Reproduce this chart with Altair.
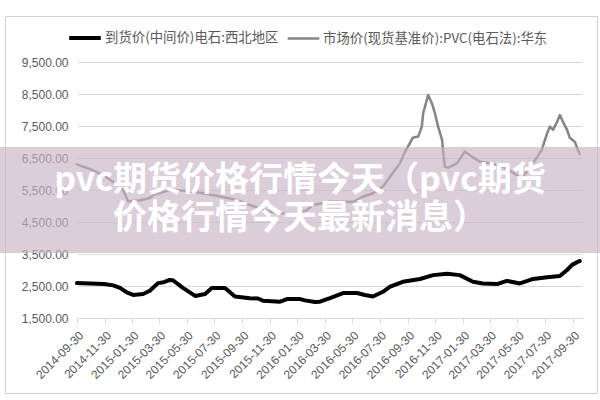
import altair as alt
import pandas as pd

series_names = ["到货价(中间价)电石:西北地区", "市场价(现货基准价):PVC(电石法):华东"]
series_colors = ["#000000", "#858585"]

carbide_dates = ["2014-09-30", "2014-10-29", "2014-11-29", "2014-12-19", "2015-01-03", "2015-01-18",
                 "2015-02-01", "2015-02-23", "2015-03-10", "2015-03-28", "2015-04-10", "2015-04-23",
                 "2015-04-30", "2015-05-22", "2015-06-02", "2015-06-18", "2015-07-10", "2015-07-25",
                 "2015-08-23", "2015-09-14", "2015-10-17", "2015-11-04", "2015-11-15", "2015-12-23",
                 "2016-01-07", "2016-02-05", "2016-02-16", "2016-03-09", "2016-03-20", "2016-04-11",
                 "2016-05-10", "2016-06-10", "2016-06-27", "2016-07-15", "2016-08-06", "2016-08-22",
                 "2016-09-19", "2016-10-27", "2016-11-25", "2016-12-26", "2017-01-23", "2017-02-21",
                 "2017-03-15", "2017-04-15", "2017-05-07", "2017-06-05", "2017-07-04", "2017-08-04",
                 "2017-09-01", "2017-09-17", "2017-09-28", "2017-10-11", "2017-10-15"]
carbide_values = [2590, 2580, 2560, 2520, 2440, 2300, 2220, 2250, 2350, 2590, 2620, 2690,
                  2680, 2440, 2340, 2190, 2250, 2440, 2440, 2170, 2120, 2110, 2040, 2010,
                  2090, 2090, 2050, 2000, 2010, 2120, 2280, 2280, 2220, 2170, 2320, 2480,
                  2630, 2720, 2840, 2880, 2840, 2630, 2580, 2560, 2660, 2580, 2720, 2770,
                  2810, 3000, 3160, 3260, 3280]

pvc_dates = ["2014-09-30", "2014-10-29", "2014-11-29", "2014-12-23", "2015-01-10", "2015-01-21",
             "2015-02-16", "2015-03-10", "2015-03-17", "2015-04-23", "2015-05-27", "2015-07-05",
             "2015-08-12", "2015-09-19", "2015-10-17", "2015-11-30", "2016-01-29", "2016-02-20",
             "2016-03-04", "2016-04-11", "2016-06-01", "2016-06-23", "2016-07-15", "2016-08-06",
             "2016-08-22", "2016-09-13", "2016-09-24", "2016-10-05", "2016-10-11", "2016-10-23",
             "2016-10-31", "2016-11-03", "2016-11-11", "2016-11-14", "2016-11-22", "2016-11-29",
             "2016-12-06", "2016-12-15", "2016-12-17", "2016-12-21", "2016-12-28", "2017-01-17",
             "2017-02-03", "2017-02-19", "2017-03-09", "2017-03-31", "2017-04-28", "2017-05-29",
             "2017-06-12", "2017-07-04", "2017-07-23", "2017-08-04", "2017-08-10", "2017-08-17",
             "2017-08-26", "2017-09-01", "2017-09-08", "2017-09-17", "2017-09-23", "2017-10-04",
             "2017-10-11", "2017-10-15"]
pvc_values = [6300, 6150, 5950, 5700, 5500, 5140, 5180, 5250, 5340, 5500, 5480, 5400,
              5300, 5190, 5030, 4820, 4720, 4870, 5030, 5130, 5130, 5290, 5400, 5600,
              5920, 6340, 6700, 6970, 7130, 7170, 7480, 7900, 8310, 8470, 8220, 7900,
              7480, 7060, 6700, 6230, 6190, 6340, 6700, 6540, 6380, 6340, 6230, 5970,
              5920, 6340, 6750, 7280, 7480, 7380, 7630, 7840, 7630, 7380, 7130, 7010,
              6750, 6620]

x_tick_dates = [(2014, 9, 30), (2014, 11, 30), (2015, 1, 30), (2015, 3, 30), (2015, 5, 30),
                (2015, 7, 30), (2015, 9, 30), (2015, 11, 30), (2016, 1, 30), (2016, 3, 30),
                (2016, 5, 30), (2016, 7, 30), (2016, 9, 30), (2016, 11, 30), (2017, 1, 30),
                (2017, 3, 30), (2017, 5, 30), (2017, 7, 30), (2017, 9, 30)]
x_domain = [(2014, 9, 30), (2017, 10, 20)]
y_ticks = [1500, 2500, 3500, 4500, 5500, 6500, 7500, 8500, 9500]

overlay_lines = ["pvc期货价格行情今天（pvc期货", "价格行情今天最新消息）"]

rows = []
for d, v in zip(carbide_dates, carbide_values):
    rows.append({"date": d, "value": v, "series": series_names[0]})
for d, v in zip(pvc_dates, pvc_values):
    rows.append({"date": d, "value": v, "series": series_names[1]})
df = pd.DataFrame(rows)


def dt(t):
    return alt.DateTime(year=t[0], month=t[1], date=t[2], utc=True)


one = pd.DataFrame({"k": [0]})

lines = alt.Chart(df).mark_line(strokeJoin="round", strokeCap="round").encode(
    x=alt.X("date:T", title=None,
            scale=alt.Scale(type="utc", domain=[dt(t) for t in x_domain]),
            axis=alt.Axis(values=[dt(t) for t in x_tick_dates], format="%Y-%m-%d",
                          labelAngle=-45, labelAlign="right", labelBaseline="middle",
                          labelFont="Liberation Sans", labelFontSize=12, labelColor="#595959",
                          labelPadding=10, labelOffset=4, grid=False, domain=True,
                          domainColor="#d9d9d9", ticks=True, tickColor="#d9d9d9",
                          tickSize=5, labelOverlap=False, labelBound=False)),
    y=alt.Y("value:Q", title=None,
            scale=alt.Scale(domain=[1500, 9500], nice=False, zero=False),
            axis=alt.Axis(values=y_ticks, format=",.2f", grid=True, gridColor="#d9d9d9",
                          domain=False, ticks=False, labelPadding=9,
                          labelFont="Liberation Sans", labelFontSize=12,
                          labelColor="#595959")),
    color=alt.Color("series:N",
                    scale=alt.Scale(domain=series_names, range=series_colors),
                    legend=alt.Legend(orient="none", legendX=-10, legendY=-42,
                                      direction="horizontal", title=None,
                                      symbolType="stroke", symbolSize=1000,
                                      symbolStrokeWidth=3.5, labelFontSize=13.4,
                                      labelFont="Noto Sans CJK SC", labelColor="#595959",
                                      columnPadding=3, labelOffset=2, labelLimit=0)),
    strokeWidth=alt.StrokeWidth("series:N",
                                scale=alt.Scale(domain=series_names, range=[4, 2.5]),
                                legend=None),
)

border = alt.Chart(one).mark_rect(fillOpacity=0, stroke="#d0d0d0", strokeWidth=1).encode(
    x=alt.value(-71.5), x2=alt.value(520.5), y=alt.value(-45.5), y2=alt.value(331.5)
)

band = alt.Chart(one).mark_rect(color="#c9b3c5", opacity=0.65).encode(
    x=alt.value(-77), x2=alt.value(523), y=alt.value(85), y2=alt.value(191)
)

text1 = alt.Chart(one).mark_text(text=overlay_lines[0], font="Noto Sans CJK SC", fontSize=34,
                                 fontWeight="bold", color="white", align="center",
                                 baseline="middle").encode(x=alt.value(223), y=alt.value(119))
text2 = alt.Chart(one).mark_text(text=overlay_lines[1], font="Noto Sans CJK SC", fontSize=34,
                                 fontWeight="bold", color="white", align="center",
                                 baseline="middle").encode(x=alt.value(223), y=alt.value(157))

chart = alt.layer(border, lines, band, text1, text2).properties(
    width=505, height=256,
    autosize=alt.AutoSizeParams(type="none"),
    padding={"left": 77, "top": 62, "right": 18, "bottom": 82},
    background="white",
).configure_view(stroke=None)

chart.save("out.html", embed_options={"renderer": "svg", "actions": False})
